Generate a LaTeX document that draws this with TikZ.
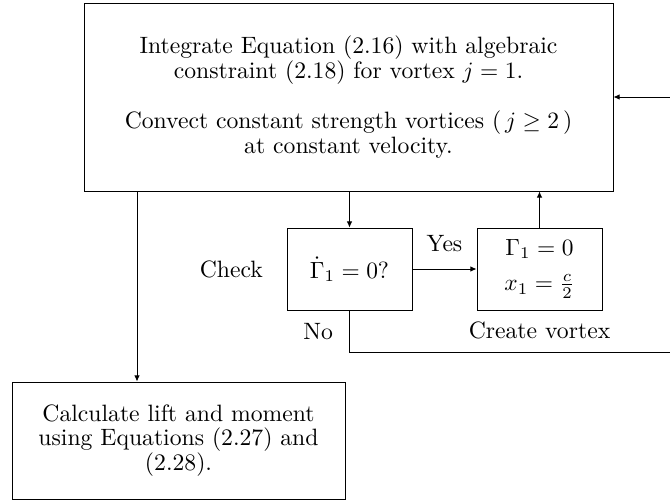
\documentclass[tikz,border=0pt]{standalone}
\usepackage{amsmath,amssymb}
\usetikzlibrary{arrows.meta,positioning}
\tikzset{
  body/.style={font=\fontsize{10.1}{10.4}\selectfont,align=center},
  box/.style={draw=black,line width=0.42pt,body},
  stepbox/.style={box,minimum width=1.875cm,minimum height=1.23cm},
  arr/.style={-{Latex[length=2.6pt,width=2.4pt]},draw=black,line width=0.42pt},
  lbl/.style={body}
}
\begin{document}
\begin{tikzpicture}[x=1cm,y=1cm]
\path[use as bounding box] (0,0) rectangle (10.05,7.53);
\node[box,minimum width=7.935cm,minimum height=2.82cm] (integ) at (5.2275,6.075) {Integrate Equation (2.16) with algebraic\\ constraint (2.18) for vortex $j=1$.\\[11.2pt] Convect constant strength vortices ($\,j\geq 2\,$)\\ at constant velocity.};

\node[stepbox] (check) at (5.2425,3.495) {$\dot{\Gamma}_1=0?$};
\node[stepbox] (create) at (8.0925,3.495) {$\Gamma_1=0$\\[4.6pt] $x_1=\frac{c}{2}$};
\node[lbl,left=0.23cm of check] (checklbl) {Check};
\node[lbl,below=1.5pt of create] (createlbl) {Create vortex};

\node[box,minimum width=4.995cm,minimum height=1.755cm] (calc) at (2.6775,0.9225) {Calculate lift and moment\\ using Equations (2.27) and\\ (2.28).};

\coordinate (noret) at (10.3,2.25);

\draw[arr] ([xshift=-0.6225cm]calc.north |- integ.south) -- ([xshift=-0.6225cm]calc.north);
\draw[arr] (check.north |- integ.south) -- (check.north);
\draw[arr] (check) -- node[lbl,above=4pt] (yeslbl) {Yes} (create);
\draw[arr] (create.north) -- (create.north |- integ.south);
\draw[arr] (check.south) |- node[lbl,pos=0.25,left=3.5pt] (nolbl) {No} (noret) |- (integ.east);
\end{tikzpicture}
\end{document}
